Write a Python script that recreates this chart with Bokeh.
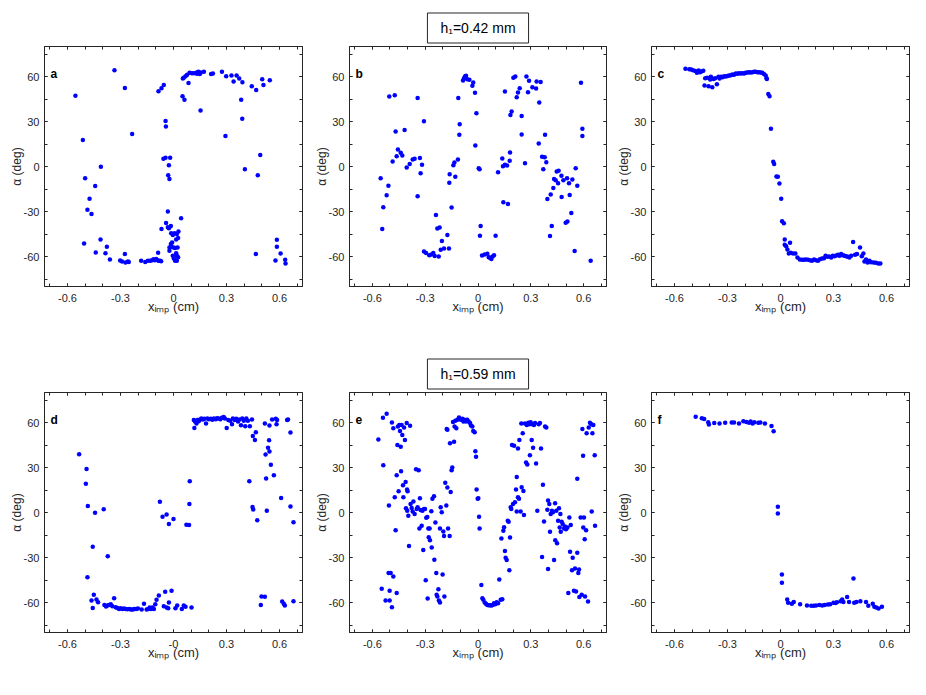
from bokeh.plotting import figure
from bokeh.models import LinearAxis, FixedTicker, Range1d, Label
from bokeh.layouts import column, row
from bokeh.embed import file_html
from bokeh.resources import INLINE

# ---------------- data ----------------
a_x = [-0.555, -0.334, -0.275, -0.234, -0.513, -0.411, -0.500, -0.443, -0.475, -0.487,
       -0.464, -0.506, -0.413, -0.440, -0.377, -0.385, -0.360, -0.302, -0.291, -0.275,
       -0.272, -0.258, -0.253, -0.183, -0.160, -0.145, -0.132, -0.121, -0.113, -0.106,
       -0.098, -0.091, -0.083, -0.075, -0.087, -0.070, -0.068, -0.032,
       -0.042, -0.032, -0.026, -0.015, -0.013, -0.004, 0.006, 0.019, 0.026, 0.015,
       0.028, 0.043, -0.015, -0.008, -0.011, -0.023, 0.000, 0.009, 0.023, -0.023,
       0.015, -0.004, 0.019, 0.002, 0.009, 0.019, 0.026,
       -0.055, -0.068, -0.085, -0.045, -0.043, -0.057, -0.045, -0.019, -0.026, -0.030, -0.023,
       0.051, 0.062, 0.053, 0.058, 0.068, 0.077, 0.091, 0.104, 0.115, 0.128,
       0.138, 0.145, 0.155, 0.132, 0.141, 0.149, 0.172, 0.085, 0.153, 0.213,
       0.223, 0.274, 0.298, 0.328, 0.340, 0.357, 0.372, 0.390, 0.383, 0.389,
       0.294, 0.443, 0.468, 0.502, 0.509, 0.545, 0.491, 0.404, 0.477,
       0.466, 0.585, 0.585, 0.606, 0.577, 0.632, 0.634]
a_y = [47.2, 64.2, 52.4, 21.7, 17.7, -0.2, -7.8, -13.0, -21.5, -28.9,
       -31.6, -51.3, -48.6, -57.3, -53.5, -57.8, -62.0, -62.7, -63.4, -58.4,
       -64.0, -63.4, -63.6, -62.9, -63.6, -62.9, -62.9, -62.5, -61.8, -62.5,
       -61.6, -62.5, -62.9, -62.9, -57.5, -63.1, -41.6, -30.0,
       -37.6, -40.5, -41.2, -39.6, -44.5, -45.7, -44.5, -45.0, -47.7, -48.6,
       -43.4, -34.5, -51.7, -50.6, -53.5, -54.0, -54.0, -54.4, -54.0, -56.2,
       -57.8, -59.5, -59.5, -61.3, -62.9, -62.9, -60.5,
       54.4, 52.2, 50.1, 30.4, 26.6, 5.1, 5.8, 5.8, 0.9, -5.8, -8.3,
       46.8, 44.5, 58.7, 59.1, 60.2, 61.1, 62.5, 62.2, 62.2, 62.5,
       62.9, 62.5, 62.7, 61.8, 63.1, 61.6, 63.1, 55.7, 37.4, 61.6,
       62.0, 63.2, 60.2, 60.7, 56.6, 60.7, 58.7, 56.2, 44.5, 31.8,
       20.4, 53.5, 51.0, 58.2, 54.4, 57.5, 7.6, -1.8, -5.8,
       -58.4, -48.8, -53.5, -58.0, -62.7, -62.2, -64.7]

b_x = [-0.553, -0.544, -0.538, -0.519, -0.509, -0.504, -0.485, -0.473, -0.468, -0.462,
       -0.455, -0.439, -0.430, -0.417, -0.405, -0.388, -0.371, -0.360, -0.343, -0.343,
       -0.330, -0.326, -0.318, -0.307, -0.307, -0.295, -0.277, -0.265, -0.254, -0.246,
       -0.239, -0.231, -0.223, -0.218, -0.212, -0.205, -0.193, -0.174, -0.165, -0.161,
       -0.163, -0.150, -0.140, -0.134, -0.129, -0.114, -0.112, -0.106, -0.104, -0.085,
       -0.080, -0.074, -0.068, -0.061, -0.049, -0.032, -0.027, -0.017, -0.009, -0.015,
       0.004, 0.009, 0.015, 0.011, 0.023, 0.038, 0.053, 0.061, 0.068, 0.076,
       0.083, 0.091, 0.100, 0.114, 0.138, 0.142, 0.144, 0.153, 0.153, 0.165,
       0.170, 0.180, 0.182, 0.184, 0.191, 0.201, 0.212, 0.220, 0.227, 0.237,
       0.248, 0.248, 0.267, 0.275, 0.284, 0.290, 0.309, 0.330, 0.333, 0.345,
       0.348, 0.356, 0.364, 0.371, 0.379, 0.381, 0.388, 0.394, 0.409, 0.413,
       0.419, 0.428, 0.432, 0.441, 0.447, 0.458, 0.455, 0.474, 0.475, 0.485,
       0.498, 0.508, 0.506, 0.517, 0.521, 0.530, 0.536, 0.549, 0.555, 0.564,
       0.585, 0.593, 0.593, 0.640]
b_y = [-7.8, -41.7, -27.2, -19.2, -12.9, 46.6, 3.3, 47.5, 23.4, 6.9,
       11.4, 9.1, 7.4, 24.3, -0.7, 1.6, 4.7, 5.1, 45.7, -19.9,
       5.6, -4.5, 1.1, 30.1, -56.7, -57.6, -59.1, -58.7, -57.6, -59.6,
       -32.3, -41.3, -60.0, -40.6, -55.5, -49.7, -54.7, -45.7, -54.7, -5.1,
       -10.9, -27.4, 0.9, 2.7, -6.9, 4.7, 45.7, 21.2, 28.1, 57.3,
       58.7, 60.0, 60.5, 58.2, 57.8, 53.8, 56.0, 49.1, 35.5, 14.0,
       -1.1, -1.8, -39.7, -46.2, -59.3, -58.7, -58.2, -60.5, -60.9, -61.6,
       -60.0, -59.1, -46.2, -3.8, 5.4, 0.2, -23.9, 1.1, 50.0, 0.7,
       -25.0, 3.8, 9.4, 34.4, 36.6, 59.1, 60.0, 46.2, 49.3, 52.2,
       33.7, 21.4, 2.2, 60.0, 49.5, 57.1, 52.9, 52.0, 56.7, 15.4,
       42.6, 56.4, 6.5, -1.8, 6.2, 21.2, 2.9, -21.6, -46.4, -18.7,
       -39.7, -14.3, -8.3, -9.1, -3.3, -2.9, -11.2, -6.2, -20.3, -9.1,
       -37.5, -36.6, -7.8, -11.2, -19.0, -31.0, -8.7, -56.4, -1.1, -12.9,
       55.8, 25.2, 20.3, -62.9]

c_x = [-0.538, -0.516, -0.505, -0.495, -0.482, -0.473, -0.463, -0.456, -0.448, -0.437,
       -0.430, -0.426, -0.415, -0.407, -0.398, -0.394, -0.386, -0.379, -0.370, -0.360,
       -0.351, -0.345, -0.336, -0.328, -0.319, -0.310, -0.300, -0.291, -0.281, -0.272,
       -0.263, -0.253, -0.244, -0.235, -0.225, -0.216, -0.206, -0.197, -0.188, -0.178,
       -0.169, -0.159, -0.150, -0.141, -0.131, -0.122, -0.113, -0.103, -0.094, -0.084,
       -0.079, -0.077, -0.069, -0.062, -0.054, -0.041, -0.036, -0.023, -0.015, -0.006,
       0.004, 0.009, 0.019, 0.024, 0.024, 0.032, 0.039, 0.054, 0.047, 0.058,
       0.071, 0.084, 0.096, 0.109, 0.122, 0.133, 0.144, 0.156, 0.167, 0.178,
       0.190, 0.201, 0.212, 0.223, 0.235, 0.246, 0.255, 0.265, 0.276, 0.287,
       0.296, 0.306, 0.315, 0.325, 0.334, 0.343, 0.353, 0.362, 0.371, 0.381,
       0.390, 0.400, 0.411, 0.422, 0.433, 0.450, 0.460, 0.469, 0.475, 0.484,
       0.493, 0.503, 0.512, 0.527, 0.540, 0.553, 0.565]
c_y = [65.1, 64.9, 64.7, 64.2, 63.6, 62.5, 64.0, 62.9, 63.4, 63.8,
       54.0, 58.9, 59.1, 53.5, 58.0, 59.8, 52.8, 58.4, 58.9, 54.8,
       59.8, 58.7, 59.8, 59.5, 60.2, 60.0, 60.4, 60.7, 60.9, 61.3,
       61.1, 62.0, 61.8, 62.2, 62.0, 62.2, 62.0, 62.5, 62.7, 62.9,
       62.7, 62.9, 63.1, 63.1, 62.9, 62.9, 62.7, 62.5, 61.6, 60.7,
       58.9, 58.4, 48.4, 46.8, 25.1, 3.1, 1.6, -6.7, -6.9, -11.4,
       -21.5, -36.5, -37.8, -48.6, -52.2, -53.1, -55.3, -50.8, -58.0, -57.5,
       -58.0, -58.0, -60.7, -62.0, -62.2, -62.2, -62.0, -62.2, -62.5, -62.9,
       -62.0, -62.5, -62.9, -61.8, -61.3, -61.1, -59.5, -60.2, -60.0, -60.7,
       -59.5, -59.8, -59.3, -58.9, -59.5, -58.4, -59.1, -59.5, -59.8, -60.2,
       -60.7, -59.5, -50.4, -58.9, -58.4, -54.0, -59.8, -58.0, -63.4, -62.0,
       -64.0, -62.9, -63.8, -64.0, -64.2, -64.7, -64.7]

d_x = [-0.534, -0.492, -0.496, -0.485, -0.487, -0.457, -0.444, -0.395, -0.372, -0.464,
       -0.457, -0.451, -0.436, -0.427, -0.391, -0.382, -0.374, -0.365, -0.355, -0.346,
       -0.336, -0.327, -0.318, -0.308, -0.299, -0.289, -0.280, -0.271, -0.261, -0.250,
       -0.241, -0.231, -0.222, -0.211, -0.201, -0.180, -0.167, -0.152, -0.143, -0.135,
       -0.128, -0.118, -0.111, -0.103, -0.096, -0.083, -0.077, -0.062, -0.055, -0.047,
       -0.039, -0.039, -0.030, -0.026, -0.026, -0.011, 0.000, 0.011, 0.021, 0.047,
       0.058, 0.068, 0.073, 0.088, 0.090, 0.092, 0.102,
       0.115, 0.122, 0.130, 0.135, 0.143, 0.150, 0.158, 0.167, 0.175, 0.184,
       0.192, 0.201, 0.211, 0.220, 0.229, 0.239, 0.246, 0.256, 0.265, 0.274,
       0.284, 0.291, 0.301, 0.310, 0.321, 0.331, 0.336, 0.346, 0.355, 0.365,
       0.374, 0.382, 0.389, 0.398, 0.406, 0.412, 0.421, 0.432, 0.444,
       0.429, 0.449, 0.461, 0.466, 0.447, 0.451, 0.474, 0.517, 0.543, 0.558,
       0.579, 0.583, 0.586, 0.521, 0.524, 0.528, 0.535, 0.541, 0.543, 0.551,
       0.568, 0.609, 0.643, 0.648, 0.662, 0.662, 0.679, 0.494, 0.498, 0.517,
       0.615, 0.624, 0.630, 0.679, 0.118]
d_y = [38.9, 29.0, 19.1, 4.3, -43.1, -22.9, -0.2, 2.2, -29.2, -58.7,
       -63.6, -54.8, -58.0, -59.8, -61.6, -62.7, -62.0, -61.6, -61.1, -62.5,
       -57.1, -63.1, -63.6, -64.3, -63.8, -64.3, -64.0, -64.3, -64.5, -64.3,
       -64.7, -64.7, -64.3, -64.3, -64.0, -64.7, -60.9, -64.7, -64.3, -63.4,
       -64.3, -63.4, -64.3, -61.1, -58.2, -55.3, 7.2, -2.9, -62.5, -52.8,
       -1.3, -63.4, -63.8, -7.6, -60.0, -52.1, -4.3, -63.8, -62.0, -64.3,
       -62.0, -62.9, -8.1, -8.3, 5.6, 20.9, -63.4,
       61.6, 60.7, 59.3, 61.6, 60.9, 62.0, 62.7, 62.0, 62.5, 59.3,
       62.7, 62.2, 62.5, 61.8, 62.7, 62.2, 62.9, 62.7, 62.2, 63.1,
       63.6, 62.7, 56.4, 61.6, 61.1, 58.9, 62.7, 61.6, 62.5, 60.7,
       62.0, 58.2, 62.7, 61.1, 57.5, 62.7, 61.1, 57.5, 62.0,
       20.9, 51.0, 48.3, 53.5, 3.6, 2.0, -5.2, 59.3, 58.0, 62.0,
       62.5, 58.9, 61.6, 38.7, 22.7, 1.1, 43.1, 48.1, 40.7, 31.9,
       24.9, 9.7, 61.6, 62.0, 53.3, 4.0, -6.5, -61.6, -56.0, -56.2,
       -59.3, -60.9, -62.0, -59.1, 56.4]

e_x = [-0.566, -0.540, -0.519, -0.538, -0.506, -0.489, -0.481, -0.473, -0.468, -0.462,
       -0.458, -0.455, -0.451, -0.447, -0.443, -0.439, -0.437, -0.434, -0.430, -0.426,
       -0.424, -0.420, -0.415, -0.411, -0.409, -0.405, -0.403, -0.400, -0.402, -0.396,
       -0.392, -0.386, -0.383, -0.377, -0.371, -0.367, -0.360, -0.352, -0.348, -0.343,
       -0.337, -0.333, -0.330, -0.326, -0.320, -0.316, -0.311, -0.307, -0.301, -0.297,
       -0.294, -0.288, -0.286, -0.282, -0.280, -0.275, -0.273, -0.265, -0.263, -0.259,
       -0.250, -0.248, -0.242, -0.237, -0.235, -0.231, -0.225, -0.222, -0.216, -0.216,
       -0.212, -0.206, -0.201, -0.197, -0.193, -0.191, -0.186, -0.180, -0.174, -0.170,
       -0.161, -0.159, -0.155, -0.150, -0.146, -0.142, -0.136, -0.133, -0.129, -0.123,
       -0.117, -0.108, -0.098, -0.089, -0.083, -0.076, -0.068, -0.061, -0.053, -0.045,
       -0.040, -0.032, -0.027, -0.019, -0.015, -0.011, -0.008, -0.002, 0.002, 0.006,
       0.009, 0.019, 0.025, 0.030, 0.038, 0.045, 0.053, 0.061, 0.068, 0.076,
       0.083, 0.091, 0.098, 0.106, 0.114, 0.121, 0.129, 0.138, 0.133, 0.144,
       0.148, 0.153, 0.157, 0.163, 0.169, 0.174, 0.178, 0.182, 0.186, 0.189,
       0.193, 0.199, 0.205, 0.210, 0.216, 0.220, 0.220, 0.227, 0.227, 0.233,
       0.235, 0.242, 0.246, 0.248, 0.254, 0.258, 0.261, 0.267, 0.273, 0.277,
       0.280, 0.286, 0.292, 0.295, 0.299, 0.305, 0.309, 0.313, 0.318, 0.324,
       0.330, 0.337, 0.345, 0.352, 0.358, 0.364, 0.369, 0.375, 0.381, 0.388,
       0.394, 0.398, 0.398, 0.405, 0.409, 0.413, 0.420, 0.426, 0.432, 0.438,
       0.439, 0.445, 0.449, 0.455, 0.460, 0.464, 0.468, 0.470, 0.475, 0.481,
       0.489, 0.494, 0.500, 0.508, 0.513, 0.519, 0.523, 0.527, 0.534, 0.538,
       0.545, 0.551, 0.557, 0.564, 0.564, 0.570, 0.574, 0.576, 0.583, 0.589,
       0.593, 0.597, 0.598, 0.602, 0.606, 0.608, 0.614, 0.617, 0.625, 0.629,
       0.636, 0.644, 0.646, 0.650, 0.655, 0.663, 0.665, -0.547, -0.525, -0.508,
       -0.502, -0.496, -0.502, -0.489, -0.481, -0.462, -0.178, -0.174]
e_y = [48.6, 63.1, 65.8, 31.5, 4.6, 60.0, 56.2, 10.2, -11.8, 24.8,
       45.0, 57.3, 14.2, 58.4, 54.4, 43.9, 27.5, 58.4, 51.7, 18.1,
       10.2, 56.6, 48.4, 20.3, 2.8, 59.6, 15.4, 14.2, 1.2, -2.1,
       -22.3, 57.8, 5.7, 3.0, 0.6, 7.3, -1.0, 28.8, 2.4, 3.5,
       28.2, -10.7, 9.5, 1.7, -8.9, 1.2, -25.0, 2.4, 2.4, -45.2,
       -3.5, -3.0, -57.3, -10.7, -16.5, -10.7, -18.5, 0.8, -23.4, 9.1,
       10.9, -31.5, -6.6, -40.3, -54.9, -56.0, -51.1, -58.7, -60.0, -10.7,
       3.5, 0.1, -41.4, -12.7, -15.6, -56.0, 19.8, 4.6, 16.7, -10.7,
       -15.6, 46.1, 13.6, 28.1, 30.0, 60.4, 47.2, 57.3, 61.1, 56.2,
       61.8, 63.4, 61.8, 62.5, 60.7, 61.8, 60.7, 61.8, 60.7, 59.6,
       58.0, 57.3, 54.4, 53.5, 40.9, 37.1, 15.4, 9.1, 9.5, -2.8,
       -10.7, -48.3, -57.1, -58.2, -60.0, -60.9, -61.6, -61.8, -61.8, -62.0,
       -61.6, -60.5, -61.1, -59.8, -60.5, -44.7, -58.2, -57.8, -17.4, -12.2,
       -9.9, -25.7, -30.2, -31.7, -5.5, -6.2, -38.5, -16.7, 3.5, 2.4,
       45.0, 5.7, 44.5, 6.8, 15.4, 0.6, 23.7, 42.7, 10.2, 9.1,
       48.4, 0.6, 59.3, 16.9, 52.8, 14.4, -1.7, 59.3, 33.3, 58.4,
       32.0, 59.8, 58.9, 38.2, 60.2, 48.4, 58.9, 43.1, 58.4, 59.6,
       32.6, 1.2, 58.9, 59.6, 42.7, -29.6, 18.5, -6.0, 57.3, 56.6,
       1.9, 8.0, -37.6, 5.7, -12.9, -1.0, 1.2, 0.1, -31.7, 6.2,
       -18.5, 1.2, -20.5, -5.5, 2.8, -10.0, -1.0, -12.9, -6.2, -7.7,
       -10.7, -9.3, -11.1, -10.0, -53.7, -3.3, -26.2, -8.4, -38.5, -30.2,
       -52.2, -37.4, -52.7, 22.5, -26.8, -40.3, -38.0, -56.4, -3.3, -54.9,
       55.7, 37.8, -10.0, -3.3, -17.9, -56.0, -11.8, 52.8, -59.3, 56.6,
       59.8, 58.9, 0.6, 52.8, 58.4, 38.2, -8.9, -50.8, -58.7, -40.3,
       -52.2, -40.3, -58.7, -63.2, -42.6, -53.7, 55.7, 55.1]

f_x = [-0.480, -0.445, -0.432, -0.409, -0.405, -0.375, -0.345, -0.313, -0.276, -0.263,
       -0.235, -0.210, -0.193, -0.178, -0.169, -0.158, -0.148, -0.126, -0.114, -0.088,
       -0.051, -0.039, -0.015, -0.015, 0.008, 0.008, 0.038, 0.043, 0.064, 0.075,
       0.111, 0.150, 0.174, 0.188, 0.201, 0.220, 0.236, 0.250, 0.268, 0.281,
       0.300, 0.311, 0.319, 0.340, 0.349, 0.356, 0.377, 0.388, 0.413, 0.417,
       0.430, 0.452, 0.484, 0.497, 0.522, 0.531, 0.542, 0.555, 0.574]
f_y = [63.8, 62.9, 62.4, 60.2, 58.7, 59.6, 59.3, 59.8, 60.0, 60.0,
       59.3, 60.9, 60.4, 59.8, 60.7, 59.3, 60.2, 59.8, 60.0, 59.3,
       57.6, 54.2, 3.8, -0.7, -41.3, -46.9, -58.0, -60.2, -60.9, -59.6,
       -61.1, -62.0, -62.2, -62.2, -62.0, -61.6, -62.0, -61.6, -61.3, -61.1,
       -60.2, -60.4, -59.8, -59.1, -58.0, -59.6, -56.4, -59.6, -44.0, -60.2,
       -59.6, -59.1, -59.6, -62.2, -60.9, -62.9, -63.3, -64.0, -62.9]

x_major = [-0.6, -0.3, 0.0, 0.3, 0.6]
x_tick_text = ["-0.6", "-0.3", "0", "0.3", "0.6"]
x_tick_text_d = ["-0.6", "-0.3", "-0", "0.3", "0.6"]
x_minor = [-0.7, -0.6, -0.5, -0.4, -0.3, -0.2, -0.1, 0.0, 0.1, 0.2, 0.3, 0.4, 0.5, 0.6, 0.7]
y_major = [-60, -30, 0, 30, 60]
y_tick_text = ["-60", "-30", "0", "30", "60"]
y_minor = [-75, -60, -45, -30, -15, 0, 15, 30, 45, 60, 75]
panel_letters = ["a", "b", "c", "d", "e", "f"]
group_titles = ["h\u2081=0.42 mm", "h\u2081=0.59 mm"]
x_label = "x\u1d62\u2098\u209a (cm)"
y_label = "\u03b1 (deg)"

FONT = "Liberation Sans"
INK = "#262626"
DOT = "#0000ff"
FH = 240


def style_axis(ax, ticks, minor, texts, show, standoff=5):
    ax.ticker = FixedTicker(ticks=ticks, minor_ticks=minor)
    ax.major_tick_in = 3
    ax.major_tick_out = 0
    ax.minor_tick_in = 3
    ax.minor_tick_out = 0
    ax.axis_line_color = INK
    ax.axis_line_width = 1
    ax.major_tick_line_color = INK
    ax.minor_tick_line_color = INK
    if show:
        ax.major_label_overrides = {t: s for t, s in zip(ticks, texts)}
        ax.major_label_text_font = FONT
        ax.major_label_text_font_size = "11px"
        ax.major_label_text_color = INK
        ax.major_label_standoff = standoff
        ax.axis_label_text_font = FONT
        ax.axis_label_text_font_size = "12px"
        ax.axis_label_text_font_style = "normal"
        ax.axis_label_text_color = INK
    else:
        ax.major_label_overrides = {t: "" for t in ticks}
        ax.major_label_text_font_size = "1px"
        ax.major_label_text_color = None
        ax.major_label_standoff = 0


def panel(xs, ys, letter, xtexts, fw, left_b, right_b, bottom_b, title=None):
    p = figure(frame_width=fw, frame_height=FH,
               x_range=Range1d(-0.73, 0.73), y_range=Range1d(-80, 80),
               output_backend="svg", toolbar_location=None,
               min_border_left=left_b, min_border_right=right_b,
               min_border_top=46, min_border_bottom=bottom_b)
    p.grid.visible = False
    p.outline_line_color = INK
    p.outline_line_width = 1
    p.background_fill_color = "white"
    p.border_fill_color = "white"
    xa = p.xaxis[0]
    ya = p.yaxis[0]
    style_axis(xa, x_major, x_minor, xtexts, True, standoff=7)
    style_axis(ya, y_major, y_minor, y_tick_text, True, standoff=5)
    xa.axis_label = x_label
    xa.axis_label_text_font_size = "13px"
    xa.axis_label_standoff = -6
    ya.axis_label = y_label
    ya.axis_label_standoff = -3
    top = LinearAxis()
    style_axis(top, x_major, x_minor, xtexts, False)
    p.add_layout(top, "above")
    right = LinearAxis()
    style_axis(right, y_major, y_minor, y_tick_text, False)
    p.add_layout(right, "right")

    p.scatter(xs, ys, size=4.5, fill_color=DOT, line_color=None)

    p.add_layout(Label(x=6, y=FH - 27, x_units="screen", y_units="screen",
                       text=letter, text_font=FONT, text_font_size="12px",
                       text_font_style="bold", text_color="black",
                       text_baseline="alphabetic"))
    if title is not None:
        p.title.text = title
        p.title.align = "center"
        p.title.text_font = FONT
        p.title.text_font_size = "14px"
        p.title.text_font_style = "normal"
        p.title.text_color = "black"
        p.title.border_line_color = INK
        p.title.border_line_width = 1
        p.title.background_fill_color = "white"
        p.title.padding = (13, 7)
        p.title.standoff = 7
    return p


pa = panel(a_x, a_y, panel_letters[0], x_tick_text, 258, 44, 5, 60)
pb = panel(b_x, b_y, panel_letters[1], x_tick_text, 257, 42, 3, 60, group_titles[0])
pc = panel(c_x, c_y, panel_letters[2], x_tick_text, 258, 42, 8, 60)
pd = panel(d_x, d_y, panel_letters[3], x_tick_text_d, 258, 44, 5, 45)
pe = panel(e_x, e_y, panel_letters[4], x_tick_text, 257, 42, 3, 45, group_titles[1])
pf = panel(f_x, f_y, panel_letters[5], x_tick_text, 258, 42, 8, 45)

layout = column(row(pa, pb, pc, spacing=0), row(pd, pe, pf, spacing=0), spacing=0)

with open("out.html", "w") as fh:
    fh.write(file_html(layout, INLINE))
